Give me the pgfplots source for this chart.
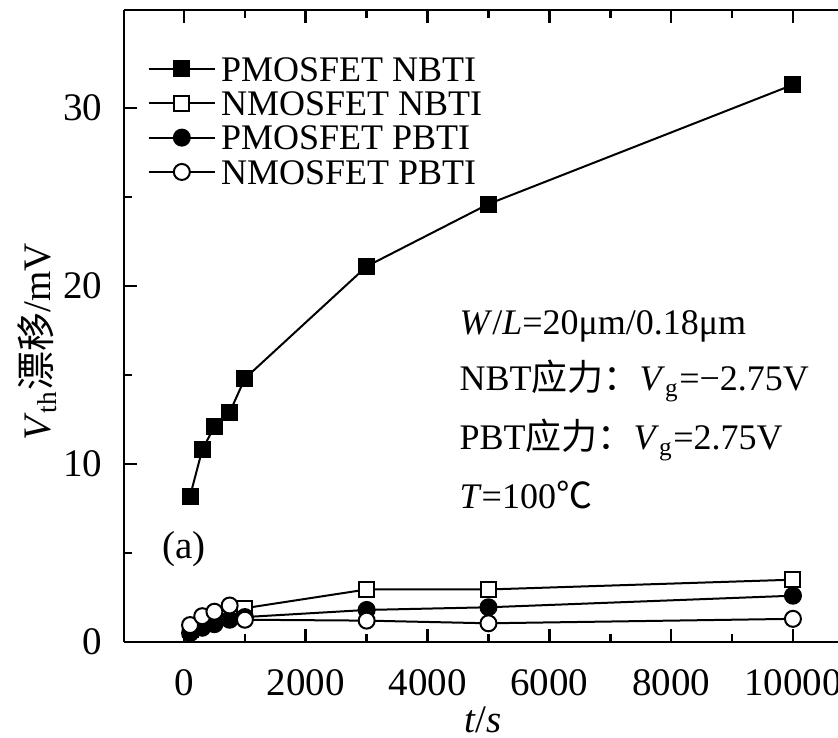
\documentclass[border=0pt]{standalone}
\usepackage{fontspec}
\setmainfont{Liberation Serif}
\newfontfamily\cjk{Noto Sans CJK SC}
\usepackage{pgfplots}
\pgfplotsset{compat=1.18}
\begin{document}
\fontsize{11.7}{13}\selectfont
\begin{tikzpicture}
\begin{axis}[
  name=ax,
  scale only axis,
  width=214.2pt, height=189.6pt,
  xmin=-985, xmax=10740, ymin=0, ymax=35.5,
  axis x line*=box, axis y line*=left,
  xtick={0,2000,...,10000}, minor x tick num=1,
  ytick={0,10,20,30}, minor y tick num=1,
  tick align=inside,
  major tick length=3.8pt, minor tick length=2.4pt,
  tick style={line width=0.8pt, black},
  axis line style={line width=0.8pt},
  scaled x ticks=false,
  /pgf/number format/1000 sep={},
  /pgf/number format/assume math mode=true,
  tick label style={font=\fontsize{11.7}{13}\selectfont},
  x tick label style={yshift=-4.3pt},
  y tick label style={xshift=-2.5pt},
  xlabel={\textit{t}/\textit{s}},
  xlabel style={at={(axis description cs:0.503,-0.123)}, anchor=center},
  ylabel={\textit{V}\textsubscript{th}{\cjk 漂移}/mV},
  ylabel style={at={(axis description cs:-0.122,0.475)}, anchor=center},
  legend cell align=left,
  legend image code/.code={\draw[mark repeat=2,mark phase=2,#1] plot coordinates {(0pt,0pt) (10pt,0pt) (20pt,0pt)};},
  legend style={at={(0.032,0.927)}, anchor=north west, draw=none, fill=none,
    inner sep=0pt, row sep=3pt, cells={anchor=west},
    font=\fontsize{10.8}{12}\selectfont,
    nodes={inner sep=0pt, text height=7.3pt, text depth=0pt},
    /tikz/every odd column/.append style={column sep=1.5pt}},
]
\addplot[black, line width=0.6pt, mark=square*, mark size=2.25pt, mark options={fill=black}] coordinates {
  (100,8.2) (300,10.8) (500,12.1) (750,12.9) (1000,14.8) (3000,21.1) (5000,24.6) (10000,31.3)
};
\addlegendentry{PMOSFET NBTI}
\addplot[black, line width=0.6pt, mark=square*, mark size=2.25pt, mark options={fill=white}] coordinates {
  (100,0.7) (300,1.1) (500,1.3) (750,1.6) (1000,1.9) (3000,2.95) (5000,2.95) (10000,3.5)
};
\addlegendentry{NMOSFET NBTI}
\addplot[black, line width=0.6pt, mark=*, mark size=2.4pt, mark options={fill=black}] coordinates {
  (100,0.5) (300,0.8) (500,1.0) (750,1.25) (1000,1.4) (3000,1.8) (5000,1.95) (10000,2.6)
};
\addlegendentry{PMOSFET PBTI}
\addplot[black, line width=0.6pt, mark=*, mark size=2.4pt, mark options={fill=white}] coordinates {
  (100,0.95) (300,1.45) (500,1.7) (750,2.05) (1000,1.25) (3000,1.2) (5000,1.05) (10000,1.3)
};
\addlegendentry{NMOSFET PBTI}
\begin{scope}[every node/.style={anchor=west, inner sep=0pt, font=\fontsize{10.8}{12}\selectfont}]
\node at (axis cs:4515,17.7) {\textit{W}/\textit{L}=20μm/0.18μm};
\node at (axis cs:4515,14.66) {NBT{\cjk 应力：}\textit{V}\textsubscript{g}=−2.75V};
\node at (axis cs:4515,11.35) {PBT{\cjk 应力：}\textit{V}\textsubscript{g}=2.75V};
\node at (axis cs:4515,8.26) {\textit{T}=100{\cjk ℃}};
\end{scope}
\node[inner sep=0pt] at (axis cs:0,5.2) {(a)};
\end{axis}
\pgfresetboundingbox
\path ([xshift=-37.2pt,yshift=-28.8pt]ax.south west) rectangle ([yshift=3pt]ax.north east);
\end{tikzpicture}
\end{document}
